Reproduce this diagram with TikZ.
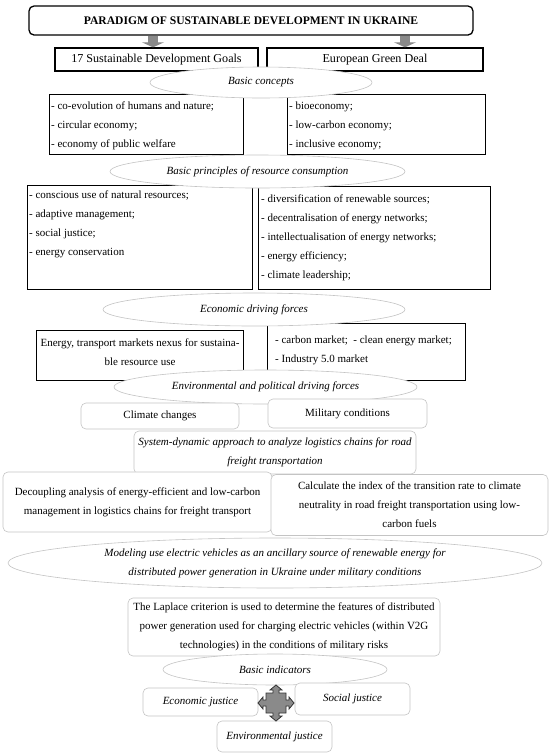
\documentclass[tikz,border=0pt]{standalone}
\usepackage{fontspec}
\setmainfont{Liberation Serif}
\usetikzlibrary{shapes.geometric,arrows.meta}
\definecolor{lgray}{HTML}{C4C4C4}
\definecolor{agray}{HTML}{8A8A8A}
\begin{document}
\begin{tikzpicture}[x=1pt,y=-1pt,
  txt/.style={font=\fontsize{11}{19}\selectfont},
  blackbox/.style={draw=black, line width=1pt, fill=white, inner sep=0pt},
  headbox/.style={draw=black, line width=1.4pt, fill=white, inner sep=0pt, font=\fontsize{12.1}{13}\selectfont},
  softbox/.style={draw=lgray, line width=0.6pt, rounded corners=5pt, fill=white, inner sep=0pt, align=center, font=\fontsize{11}{19}\selectfont},
  oval/.style={ellipse, draw=lgray, line width=0.6pt, fill=white, inner sep=0pt, align=center, font=\fontsize{11}{19}\itshape\selectfont},
  listtxt/.style={txt, anchor=north west, inner sep=0pt, align=left},
  blockarrow/.style={draw=agray, line width=10pt, -{Triangle[width=22pt,length=5pt]}, shorten >=0pt}
]
\useasboundingbox (0,0) rectangle (550,756);
\fill[white] (0,0) rectangle (550,756);

% title
\node[draw=black, line width=1.3pt, rounded corners=5pt, minimum width=444, minimum height=29, inner sep=0pt,
  font=\fontsize{11.6}{13}\bfseries\selectfont] (title) at (251,20.5) {PARADIGM OF SUSTAINABLE DEVELOPMENT IN UKRAINE};

\node[headbox, minimum width=203, minimum height=23] (sdg) at (156.5,59.5) {17 Sustainable Development Goals};
\node[headbox, minimum width=216, minimum height=23] (egd) at (375,59.5) {European Green Deal};

\coordinate (a1) at (153,0);
\coordinate (a2) at (405,0);
\draw[blockarrow] (title.south -| a1) -- (sdg.north -| a1);
\draw[blockarrow] (title.south -| a2) -- (egd.north -| a2);

% basic concepts
\node[blackbox, minimum width=194, minimum height=60] (cl) at (146,124) {};
\node[blackbox, minimum width=198, minimum height=60] (cr) at (386,124) {};
\node[listtxt] (clt) at (51,102) {- co-evolution of humans and nature;\\- circular economy;\\- economy of public welfare};
\node[listtxt] (crt) at (289,102) {- bioeconomy;\\- low-carbon economy;\\- inclusive economy;};
\node[oval, minimum width=222, minimum height=31] (e1) at (261,82.5) {Basic concepts};

% principles
\node[blackbox, minimum width=225, minimum height=104] (pl) at (139.5,237) {};
\node[blackbox, minimum width=232, minimum height=103] (pr) at (374,237.5) {};
\node[listtxt] (plt) at (29,191) {- conscious use of natural resources;\\- adaptive management;\\- social justice;\\- energy conservation};
\node[listtxt] (prt) at (261,194.5) {- diversification of renewable sources;\\- decentralisation of energy networks;\\- intellectualisation of energy networks;\\- energy efficiency;\\- climate leadership;};
\node[oval, minimum width=295, minimum height=33] (e2) at (257.5,171.5) {Basic principles of resource consumption};

% economic driving forces
\node[blackbox, minimum width=207, minimum height=50] (el) at (139.5,355) {};
\node[blackbox, minimum width=198, minimum height=57] (er) at (366,351.5) {};
\node[txt, align=center, inner sep=0pt] (elt) at (140,352) {Energy, transport markets nexus for sustaina-\\ble resource use};
\node[listtxt] (ert) at (275,335.5) {- carbon market;\ \ - clean energy market;\\- Industry 5.0 market};
\node[oval, minimum width=302, minimum height=33] (e3) at (254,309.5) {Economic driving forces};

\node[oval, minimum width=303, minimum height=34] (e4) at (265.5,387) {Environmental and political driving forces};

% drivers
\node[softbox, minimum width=158, minimum height=26] (clim) at (160,416) {Climate changes};
\node[softbox, minimum width=159, minimum height=29] (mil) at (347.5,413.5) {Military conditions};

\node[softbox, minimum width=282, minimum height=43, font=\fontsize{11}{19}\itshape\selectfont] (sys) at (275,452.5) {System-dynamic approach to analyze logistics chains for road\\freight transportation};

\node[softbox, minimum width=269, minimum height=60] (dec) at (137.5,502) {Decoupling analysis of energy-efficient and low-carbon\\management in logistics chains for freight transport};
\node[softbox, minimum width=277, minimum height=61] (calc) at (409.5,505) {Calculate the index of the transition rate to climate\\neutrality in road freight transportation using low-\\carbon fuels};

\node[oval, minimum width=534, minimum height=50] (e5) at (275,563) {Modeling use electric vehicles as an ancillary source of renewable energy for\\distributed power generation in Ukraine under military conditions};

\node[softbox, minimum width=312, minimum height=58] (lap) at (284,627) {The Laplace criterion is used to determine the features of distributed\\power generation used for charging electric vehicles (within V2G\\technologies) in the conditions of military risks};

\node[oval, minimum width=224, minimum height=31] (e6) at (275,669.5) {Basic indicators};

\node[softbox, minimum width=115, minimum height=28, font=\fontsize{11}{12}\itshape\selectfont] (ecj) at (200.5,702) {Economic justice};
\node[softbox, minimum width=115, minimum height=32, font=\fontsize{11}{12}\itshape\selectfont] (soj) at (352.5,699) {Social justice};
\node[softbox, minimum width=115, minimum height=31, font=\fontsize{11}{12}\itshape\selectfont] (enj) at (274.5,736.5) {Environmental justice};

% four-way arrow
\coordinate (fw) at (276,703);
\filldraw[fill=agray, draw=black!80, line width=0.8pt, shift={(fw)}]
  (0,-18) -- (6,-13) -- (3,-13) -- (3,-10) -- (10,-10) -- (10,-3) -- (13,-3) -- (13,-6) -- (18,0)
  -- (13,6) -- (13,3) -- (10,3) -- (10,10) -- (3,10) -- (3,13) -- (6,13) -- (0,18)
  -- (-6,13) -- (-3,13) -- (-3,10) -- (-10,10) -- (-10,3) -- (-13,3) -- (-13,6) -- (-18,0)
  -- (-13,-6) -- (-13,-3) -- (-10,-3) -- (-10,-10) -- (-3,-10) -- (-3,-13) -- (-6,-13) -- cycle;
\end{tikzpicture}
\end{document}
